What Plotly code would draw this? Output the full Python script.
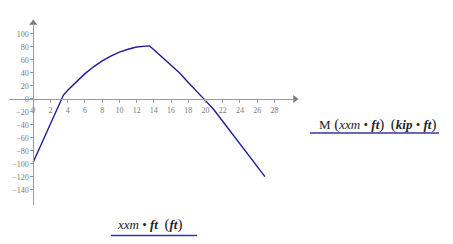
import plotly.graph_objects as go

# data
x_ft = [0, 1, 2, 3, 3.5, 4, 5, 6, 7, 8, 9, 10, 11, 12, 13, 13.5,
        14, 15, 16, 17, 18, 19, 20, 21, 22, 23, 24, 25, 26, 26.9]
M_kipft = [-97, -68, -38.5, -9, 6, 13.5, 27, 39, 49.5, 58.5, 66, 72, 76.5, 80, 81.3, 81.5,
           75.8, 64.3, 52.5, 40, 25.5, 12, -2.5, -17, -34.5, -51, -68, -85.5, -103, -119.5]
x_ticks = list(range(0, 30, 2))
y_ticks = list(range(-140, 120, 20))

x_range = [-2.82, 30.39]
y_range = [-163.1, 116.9]

line_col = "#1c1c9c"
axis_col = "#9a9a9a"
label_col = "#7a7a7a"
serif = "Liberation Serif, Times New Roman, serif"

fig = go.Figure()
fig.add_trace(go.Scatter(x=x_ft, y=M_kipft, mode="lines",
                         line=dict(color=line_col, width=1.4),
                         showlegend=False, hoverinfo="skip"))
# axis arrowheads
fig.add_trace(go.Scatter(x=[0], y=[y_range[1]], mode="markers",
                         marker=dict(symbol="triangle-up", size=7, color="#777777"),
                         cliponaxis=False, showlegend=False, hoverinfo="skip"))
fig.add_trace(go.Scatter(x=[x_range[1]], y=[0], mode="markers",
                         marker=dict(symbol="triangle-right", size=7, color="#777777"),
                         cliponaxis=False, showlegend=False, hoverinfo="skip"))

ypos = (0 - y_range[0]) / (y_range[1] - y_range[0])
xpos = (0 - x_range[0]) / (x_range[1] - x_range[0])

fig.update_layout(
    width=453, height=244,
    margin=dict(l=9, r=158, t=23, b=39),
    paper_bgcolor="white", plot_bgcolor="white",
    xaxis=dict(range=x_range, anchor="free", position=ypos,
               showline=True, linecolor=axis_col, linewidth=1,
               showgrid=False, zeroline=False,
               tickmode="array", tickvals=x_ticks,
               ticks="outside", ticklen=3, tickcolor=axis_col,
               tickfont=dict(family=serif, size=8, color=label_col)),
    yaxis=dict(range=y_range, anchor="free", position=xpos,
               showline=True, linecolor=axis_col, linewidth=1,
               showgrid=False, zeroline=False,
               tickmode="array", tickvals=y_ticks,
               ticks="outside", ticklen=3, tickcolor=axis_col,
               tickfont=dict(family=serif, size=8, color=label_col)),
    font=dict(family=serif),
)

# pixel -> paper helpers for layout decoration
def px_x(p):
    return (p - 9) / (295 - 9)

def px_y(p):
    return (205 - p) / (205 - 23)

big = "<span style='font-size:15px'>%s</span>"
fig.add_annotation(xref="paper", yref="paper", x=px_x(377), y=px_y(124),
                   text="M" + big % " (" + "<i>xxm</i> • <b><i>ft</i></b>" + big % ")"
                        + "  " + big % "(" + "<b><i>kip</i></b> • <b><i>ft</i></b>" + big % ")",
                   showarrow=False, font=dict(family=serif, size=13, color="#222222"),
                   xanchor="center", yanchor="middle")
fig.add_annotation(xref="paper", yref="paper", x=px_x(149), y=px_y(224),
                   text="<i>xxm</i> • <b><i>ft</i></b>  " + big % "(" + "<b><i>ft</i></b>" + big % ")",
                   showarrow=False, font=dict(family=serif, size=13, color="#222222"),
                   xanchor="center", yanchor="middle")

fig.add_shape(type="line", xref="paper", yref="paper",
              x0=px_x(310), x1=px_x(439), y0=px_y(133), y1=px_y(133),
              line=dict(color="#3434a8", width=1.5))
fig.add_shape(type="line", xref="paper", yref="paper",
              x0=px_x(111), x1=px_x(197), y0=px_y(235.5), y1=px_y(235.5),
              line=dict(color="#3434a8", width=1.5))

fig.write_html("out.html")
